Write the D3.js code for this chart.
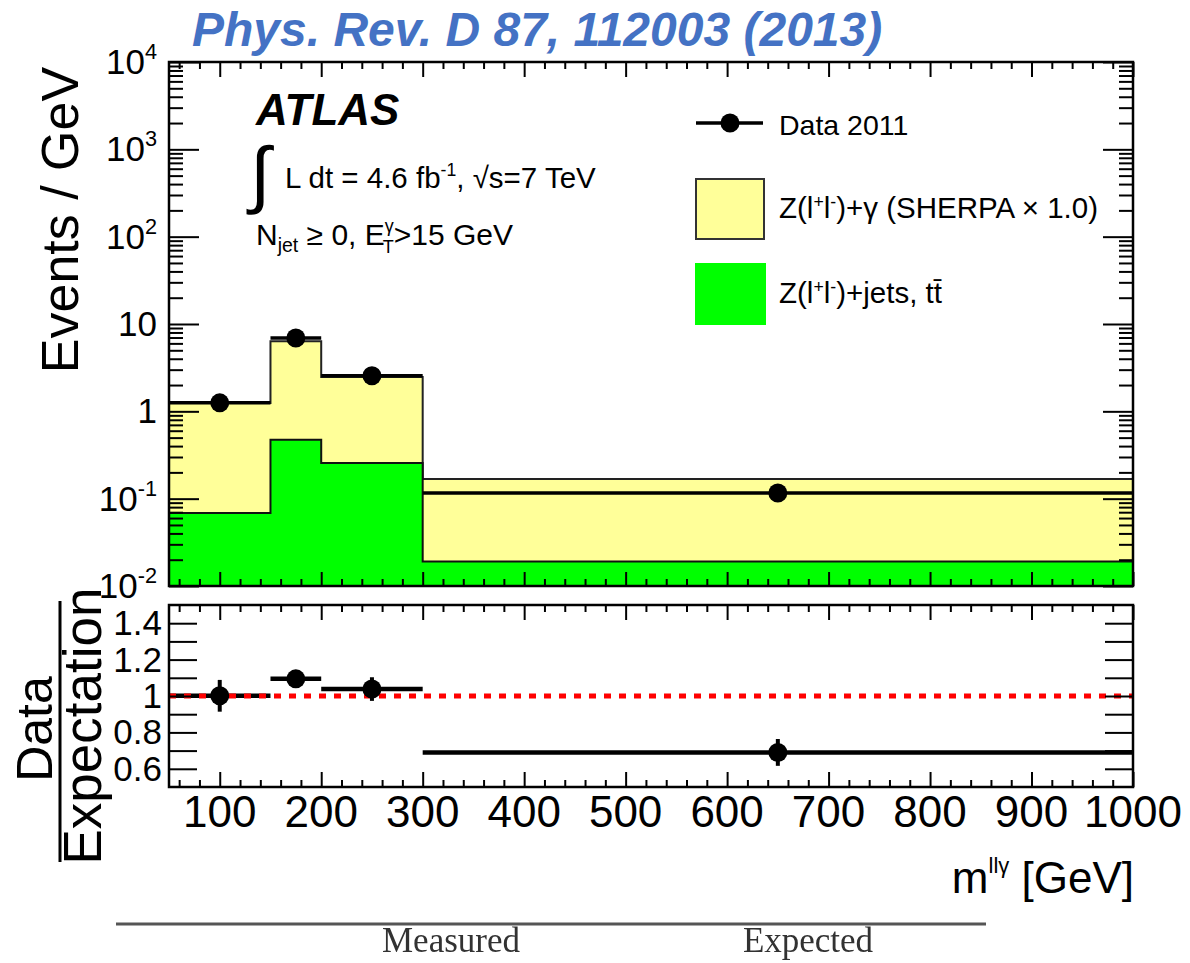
<!DOCTYPE html>
<html>
<head>
<meta charset="utf-8">
<script src="https://cdn.jsdelivr.net/npm/d3@7"></script>
<style>
  body { margin: 0; background: #fff; }
  svg { display: block; font-family: "Liberation Sans", Arial, Helvetica, sans-serif; }
</style>
</head>
<body>
<svg id="fig" width="1190" height="963"></svg>
<script>
// m(llγ) binning and contents (events / GeV)
const binEdges = [50, 150, 200, 300, 1000];
const binCentres = [100, 175, 250, 650];
const dataValues = [1.25, 6.93, 2.56, 0.116];
const dataErrors = [0.109, 0.28, 0.16, 0.0124];
const zGammaValues = [1.18, 5.86, 2.21, 0.149];
const zJetsTtbarValues = [0.0686, 0.474, 0.256, 0.0191];

// axis ticks and labels
const xTickLabels = [100, 200, 300, 400, 500, 600, 700, 800, 900, 1000];
const yDecades = [-2, -1, 0, 1, 2, 3, 4];
const ratioTickLabels = [0.6, 0.8, 1.0, 1.2, 1.4];

const expected = zGammaValues.map((v, i) => v + zJetsTtbarValues[i]);
const ratio = dataValues.map((v, i) => v / expected[i]);
const ratioErr = dataErrors.map((e, i) => e / expected[i]);

const svg = d3.select("#fig");
const L = 169, R = 1133;
const mainTop = 62, mainBot = 586;
const ratTop = 605, ratBot = 787;

const x = d3.scaleLinear().domain([50, 1000]).range([L, R]);
const y = d3.scaleLog().domain([1e-2, 1e4]).range([mainBot, mainTop]);
const yr = d3.scaleLinear().domain([0.5, 1.5]).range([ratBot, ratTop]);

const defs = svg.append("defs");
defs.append("clipPath").attr("id", "clipMain").append("rect")
  .attr("x", L).attr("y", mainTop).attr("width", R - L).attr("height", mainBot - mainTop);
defs.append("clipPath").attr("id", "clipRatio").append("rect")
  .attr("x", L).attr("y", ratTop).attr("width", R - L).attr("height", ratBot - ratTop);
defs.append("filter").attr("id", "soft").append("feGaussianBlur").attr("stdDeviation", 0.7);

// helper: text made of normal / superscript / subscript pieces
function richText(parent, px, py, parts, size, opts = {}) {
  const t = parent.append("text").attr("x", px).attr("y", py)
    .attr("font-size", size).attr("fill", opts.fill || "#000");
  if (opts.anchor) t.attr("text-anchor", opts.anchor);
  let shift = 0;
  parts.forEach(p => {
    const s = t.append("tspan").text(p.t);
    let target = 0, fs = size;
    if (p.sup) { target = -(p.raise || size * 0.42); fs = size * (p.scale || 0.62); }
    if (p.sub) { target = (p.drop || size * 0.28); fs = size * (p.scale || 0.62); }
    s.attr("font-size", fs).attr("dy", target - shift);
    if (p.dx) s.attr("dx", p.dx);
    shift = target;
  });
  return t;
}

// ---------- main panel ----------
const stepPts = vals => binEdges.map((e, i) => ({ x: e, v: vals[Math.min(i, vals.length - 1)] }));
const area = d3.area().curve(d3.curveStepAfter).x(d => x(d.x)).y0(mainBot).y1(d => y(d.v));
const stepLine = d3.line().curve(d3.curveStepAfter).x(d => x(d.x)).y(d => y(d.v));

const gMain = svg.append("g").attr("clip-path", "url(#clipMain)");
gMain.append("path").datum(stepPts(expected)).attr("d", area).attr("fill", "#ffff99");
gMain.append("path").datum(stepPts(expected)).attr("d", stepLine)
  .attr("fill", "none").attr("stroke", "#222").attr("stroke-width", 2);
gMain.append("path").datum(stepPts(zJetsTtbarValues)).attr("d", area).attr("fill", "#00ff00");
gMain.append("path").datum(stepPts(zJetsTtbarValues)).attr("d", stepLine)
  .attr("fill", "none").attr("stroke", "#111").attr("stroke-width", 2);

const dataIdx = d3.range(dataValues.length);
gMain.selectAll(".xbar").data(dataIdx).join("line")
  .attr("x1", i => x(binEdges[i])).attr("x2", i => x(binEdges[i + 1]))
  .attr("y1", i => y(dataValues[i])).attr("y2", i => y(dataValues[i]))
  .attr("stroke", "#000").attr("stroke-width", 3.5);
gMain.selectAll(".ybar").data(dataIdx).join("line")
  .attr("x1", i => x(binCentres[i])).attr("x2", i => x(binCentres[i]))
  .attr("y1", i => y(dataValues[i] + dataErrors[i])).attr("y2", i => y(dataValues[i] - dataErrors[i]))
  .attr("stroke", "#000").attr("stroke-width", 3.5);
gMain.selectAll(".pt").data(dataIdx).join("circle")
  .attr("cx", i => x(binCentres[i])).attr("cy", i => y(dataValues[i])).attr("r", 9.5).attr("fill", "#000");

// ---------- ratio panel ----------
const gRat = svg.append("g").attr("clip-path", "url(#clipRatio)");
gRat.selectAll(".rbar").data(dataIdx).join("line")
  .attr("x1", i => x(binEdges[i])).attr("x2", i => x(binEdges[i + 1]))
  .attr("y1", i => yr(ratio[i])).attr("y2", i => yr(ratio[i]))
  .attr("stroke", "#000").attr("stroke-width", 4.5);
gRat.append("line")
  .attr("x1", x(50)).attr("x2", x(1000)).attr("y1", yr(1)).attr("y2", yr(1))
  .attr("stroke", "#ff0000").attr("stroke-width", 5).attr("stroke-dasharray", "7,8");
gRat.selectAll(".rerr").data(dataIdx).join("line")
  .attr("x1", i => x(binCentres[i])).attr("x2", i => x(binCentres[i]))
  .attr("y1", i => yr(ratio[i] + ratioErr[i])).attr("y2", i => yr(ratio[i] - ratioErr[i]))
  .attr("stroke", "#000").attr("stroke-width", 4);
gRat.selectAll(".rpt").data(dataIdx).join("circle")
  .attr("cx", i => x(binCentres[i])).attr("cy", i => yr(ratio[i])).attr("r", 9.5).attr("fill", "#000");

// ---------- ticks ----------
function tickSet(axis, tx, ty) {
  const g = svg.append("g").attr("transform", `translate(${tx},${ty})`).call(axis);
  g.select(".domain").remove();
  g.selectAll("text").remove();
  g.selectAll("line").attr("stroke", "#000").attr("stroke-width", 2);
}
const xMinor = d3.range(60, 1000, 20).filter(v => v % 100 !== 0);
const yMajor = yDecades.map(d => Math.pow(10, d));
const yMinor = [];
yDecades.slice(0, -1).forEach(d => { for (let k = 2; k <= 9; k++) yMinor.push(k * Math.pow(10, d)); });
const ratioTicks = d3.range(0.6, 1.45, 0.1);

// main panel
tickSet(d3.axisBottom(x).tickValues(xTickLabels).tickSize(-14).tickFormat(""), 0, mainBot);
tickSet(d3.axisBottom(x).tickValues(xMinor).tickSize(-7).tickFormat(""), 0, mainBot);
tickSet(d3.axisTop(x).tickValues(xTickLabels).tickSize(-15).tickFormat(""), 0, mainTop);
tickSet(d3.axisTop(x).tickValues(xMinor).tickSize(-7).tickFormat(""), 0, mainTop);
tickSet(d3.axisLeft(y).tickValues(yMajor).tickSize(-30).tickFormat(""), L, 0);
tickSet(d3.axisLeft(y).tickValues(yMinor).tickSize(-14).tickFormat(""), L, 0);
tickSet(d3.axisRight(y).tickValues(yMajor).tickSize(-30).tickFormat(""), R, 0);
tickSet(d3.axisRight(y).tickValues(yMinor).tickSize(-14).tickFormat(""), R, 0);
// ratio panel
tickSet(d3.axisBottom(x).tickValues(xTickLabels).tickSize(-15).tickFormat(""), 0, ratBot);
tickSet(d3.axisBottom(x).tickValues(xMinor).tickSize(-7).tickFormat(""), 0, ratBot);
tickSet(d3.axisTop(x).tickValues(xTickLabels).tickSize(-15).tickFormat(""), 0, ratTop);
tickSet(d3.axisTop(x).tickValues(xMinor).tickSize(-7).tickFormat(""), 0, ratTop);
tickSet(d3.axisLeft(yr).tickValues(ratioTicks).tickSize(-28).tickFormat(""), L, 0);
tickSet(d3.axisRight(yr).tickValues(ratioTicks).tickSize(-28).tickFormat(""), R, 0);

// frames
[[mainTop, mainBot], [ratTop, ratBot]].forEach(([t, b]) => {
  svg.append("rect").attr("x", L).attr("y", t).attr("width", R - L).attr("height", b - t)
    .attr("fill", "none").attr("stroke", "#000").attr("stroke-width", 2.5);
});

// ---------- tick labels ----------
svg.append("g").selectAll("text").data(xTickLabels).join("text")
  .attr("x", d => x(d)).attr("y", 827).attr("text-anchor", "middle")
  .attr("font-size", 44).text(d => d);

yDecades.forEach(d => {
  const parts = d === 0 ? [{ t: "1" }] : d === 1 ? [{ t: "10" }]
    : [{ t: "10" }, { t: String(d), sup: true, raise: 15, scale: 0.62 }];
  richText(svg, 157, y(Math.pow(10, d)) + 12, parts, 35, { anchor: "end" });
});

svg.append("g").selectAll("text").data(ratioTickLabels).join("text")
  .attr("x", 162).attr("y", d => yr(d) + 12).attr("text-anchor", "end")
  .attr("font-size", 35).text(d => d === 1 ? "1" : d3.format(".1f")(d));

// ---------- axis titles ----------
svg.append("text").attr("transform", "translate(78,220) rotate(-90)")
  .attr("text-anchor", "middle").attr("font-size", 52).text("Events / GeV");

svg.append("text").attr("transform", "translate(52,729) rotate(-90)")
  .attr("text-anchor", "middle").attr("font-size", 50).text("Data");
svg.append("line").attr("x1", 60).attr("x2", 60).attr("y1", 601).attr("y2", 862)
  .attr("stroke", "#000").attr("stroke-width", 3);
svg.append("text").attr("transform", "translate(101,726) rotate(-90)")
  .attr("text-anchor", "middle").attr("font-size", 53).text("Expectation");

richText(svg, 1134, 893, [{ t: "m" }, { t: "llγ", sup: true, raise: 20, scale: 0.5 }, { t: " [GeV]" }], 44, { anchor: "end" });

// ---------- title and labels ----------
svg.append("text").attr("x", 192).attr("y", 46).attr("font-size", 48)
  .attr("font-weight", "bold").attr("font-style", "italic").attr("fill", "#4472C4")
  .text("Phys. Rev. D 87, 112003 (2013)");

svg.append("text").attr("x", 256).attr("y", 125).attr("font-size", 44)
  .attr("font-weight", "bold").attr("font-style", "italic").text("ATLAS");

svg.append("text").attr("x", 250).attr("y", 199).attr("font-size", 74).text("∫");
richText(svg, 285, 188, [
  { t: "L dt = 4.6 fb" }, { t: "-1", sup: true, raise: 12, scale: 0.6 },
  { t: ", √s=7 TeV" }], 29.5);
richText(svg, 256, 245, [
  { t: "N" }, { t: "jet", sub: true, drop: 7, scale: 0.65 },
  { t: " ≥ 0, E" }, { t: "γ", sup: true, raise: 13, scale: 0.6 },
  { t: "T", sub: true, drop: 8, scale: 0.6, dx: -11 },
  { t: ">15 GeV" }], 30);

// ---------- legend ----------
const leg = svg.append("g");
leg.append("line").attr("x1", 696).attr("x2", 763).attr("y1", 123).attr("y2", 123)
  .attr("stroke", "#000").attr("stroke-width", 3.5);
leg.append("circle").attr("cx", 730).attr("cy", 123).attr("r", 9.5).attr("fill", "#000");
leg.append("text").attr("x", 779).attr("y", 135).attr("font-size", 28.5).text("Data 2011");
leg.append("rect").attr("x", 696).attr("y", 179).attr("width", 68).attr("height", 60)
  .attr("fill", "#ffff99").attr("stroke", "#333").attr("stroke-width", 2);
richText(leg, 779, 218, [
  { t: "Z(l" }, { t: "+", sup: true, raise: 10, scale: 0.6 }, { t: "l" },
  { t: "-", sup: true, raise: 10, scale: 0.6 }, { t: ")+γ (SHERPA × 1.0)" }], 29.5);
leg.append("rect").attr("x", 695).attr("y", 263).attr("width", 71).attr("height", 62)
  .attr("fill", "#00ff00");
richText(leg, 779, 303, [
  { t: "Z(l" }, { t: "+", sup: true, raise: 10, scale: 0.6 }, { t: "l" },
  { t: "-", sup: true, raise: 10, scale: 0.6 }, { t: ")+jets, tt\u0304" }], 29.5);

// ---------- table header below the figure ----------
const foot = svg.append("g").attr("filter", "url(#soft)");
foot.append("line").attr("x1", 116).attr("x2", 986).attr("y1", 924).attr("y2", 924)
  .attr("stroke", "#555").attr("stroke-width", 3);
foot.append("text").attr("x", 451).attr("y", 952).attr("text-anchor", "middle")
  .attr("font-family", "'Liberation Serif', 'Times New Roman', serif").attr("font-size", 35)
  .attr("fill", "#333").text("Measured");
foot.append("text").attr("x", 808).attr("y", 952).attr("text-anchor", "middle")
  .attr("font-family", "'Liberation Serif', 'Times New Roman', serif").attr("font-size", 35)
  .attr("fill", "#333").text("Expected");
</script>
</body>
</html>
